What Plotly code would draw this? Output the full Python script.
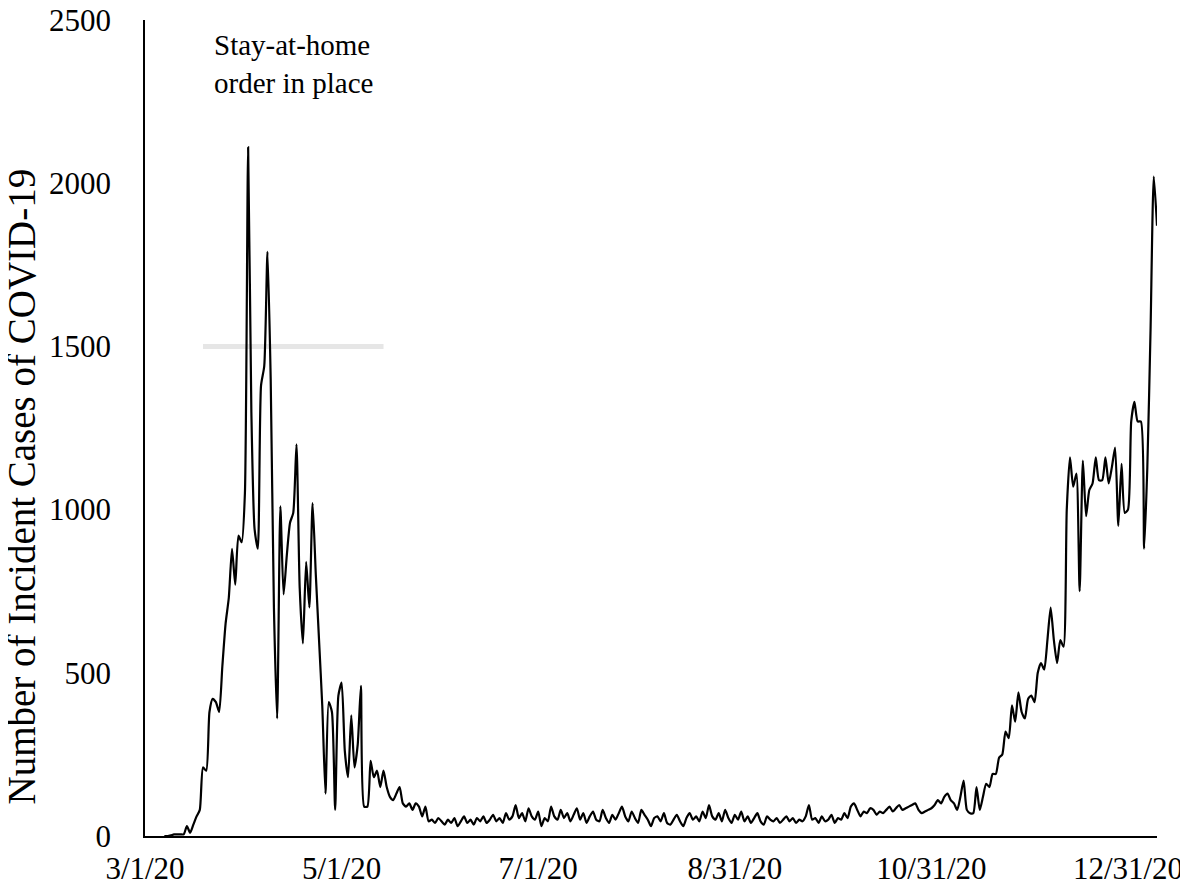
import pandas as pd
import plotly.graph_objects as go

# daily incident cases, day 0 = 3/1/20
start_day = 6
early_cases = [0, 0, 2, 5, 5, 5, 5, 30, 10, 35, 60, 80, 210, 200, 380, 420, 410, 380, 520, 650,
               730, 880, 770, 920, 900, 1050, 2110, 1300, 940, 880, 1380, 1440, 1790, 1400, 700,
               360, 1010, 740, 860, 960, 990, 1200, 760, 590, 840, 700, 1020, 800, 600, 400,
               130, 410, 380, 80, 430, 470, 260, 180, 370, 210, 280, 460, 90, 90, 230, 180, 200,
               150, 200, 150, 120, 110, 130, 150, 100, 90, 100, 80, 100, 90, 60, 90]
mid_cases = [45, 50, 40, 55, 45, 35, 50, 40, 55, 30, 45, 60, 40, 50, 35, 55, 45, 60, 40, 50,
             65, 45, 55, 40, 70, 50, 60, 95, 55, 70, 45, 85, 60, 50, 75, 30, 55, 45, 90, 60,
             50, 80, 55, 70, 45, 65, 85, 50, 70, 40, 60, 75, 50, 45, 80, 55, 40, 65, 50, 70,
             90, 60, 45, 75, 55, 40, 80, 65, 50, 30, 55, 60, 45, 70, 40, 35, 50, 65, 45, 30,
             55, 70, 50, 60, 45, 75, 55, 95, 60, 50, 70, 45, 80, 55, 40, 65, 50, 75, 45, 60,
             40, 55, 70, 45, 35, 60, 50, 45, 55, 40, 50, 60, 45, 55, 40, 50, 45, 60, 95, 50,
             55, 40, 60, 45, 50, 65, 40, 55, 50,
             70, 55, 90, 100, 80, 60, 75, 70, 85, 80, 65, 75, 70, 80, 90, 75, 85, 95, 80, 85]
late_cases = [90, 95, 100, 80, 70, 75, 80, 85, 95, 110, 100, 120, 130, 110, 100, 80, 120, 170,
              80, 70, 70, 150, 80, 120, 160, 150, 190, 190, 240, 250, 320, 300, 400, 350, 440,
              380, 360, 420, 430, 410, 500, 530, 510, 600, 700, 600, 530, 600, 580, 1000, 1160,
              1070, 1110, 750, 1150, 980, 1060, 1080, 1160, 1090, 1090, 1160, 1080, 1130, 1190,
              950, 1140, 990, 1000, 1270, 1330, 1270, 1270, 880, 1130, 1550, 2020, 1870]

cases = early_cases + mid_cases + late_cases
dates = pd.Timestamp("2020-03-01") + pd.to_timedelta(range(start_day, start_day + len(cases)), unit="D")

tick_dates = ["2020-03-01", "2020-05-01", "2020-07-01", "2020-08-31", "2020-10-31", "2020-12-31"]
tick_labels = ["3/1/20", "5/1/20", "7/1/20", "8/31/20", "10/31/20", "12/31/20"]
y_ticks = [0, 500, 1000, 1500, 2000, 2500]

order_span = ["2020-03-19", "2020-05-14"]
order_level = 1500

fig = go.Figure()
fig.add_trace(go.Scatter(x=order_span, y=[order_level, order_level], mode="lines",
                         line=dict(color="#e6e6e6", width=5), hoverinfo="skip"))
fig.add_trace(go.Scatter(x=dates, y=cases, mode="lines",
                         line=dict(color="black", width=2.2, shape="spline", smoothing=0.6)))

fig.add_annotation(x="2020-04-16", y=2480, text="Stay-at-home<br>order in place",
                   showarrow=False, align="left", yanchor="top",
                   font=dict(size=29, color="black"))
# y axis title, placed like the original (a little below centre)
fig.add_annotation(xref="paper", yref="paper", x=-0.145, y=0.428,
                   text="Number of Incident Cases of COVID-19", textangle=-90,
                   showarrow=False, font=dict(size=39, color="black"))

fig.update_layout(
    width=1188, height=891,
    plot_bgcolor="white", paper_bgcolor="white",
    margin=dict(l=137, r=39, t=12, b=63, autoexpand=False),
    showlegend=False,
    font=dict(family="Liberation Serif, Times New Roman, serif", size=31, color="black"),
)
fig.update_xaxes(type="date", range=["2020-03-01", "2021-01-09"],
                 tickvals=tick_dates, ticktext=tick_labels, ticklabelstandoff=4,
                 ticklabeloverflow="allow",
                 showgrid=False, showline=True, linecolor="black", linewidth=1.5,
                 ticks="", zeroline=False)
fig.update_yaxes(range=[0, 2500], tickvals=y_ticks, showgrid=False, showline=True, ticklabelstandoff=26,
                 ticklabeloverflow="allow",
                 linecolor="black", linewidth=1.5, ticks="", zeroline=False)

fig.write_html("out.html")
